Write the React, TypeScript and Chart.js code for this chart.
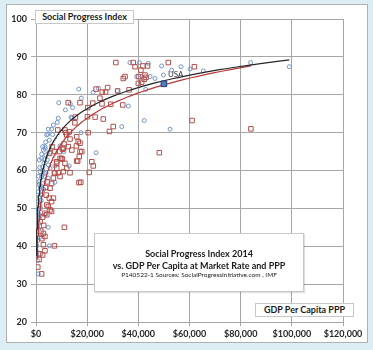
import React, { useEffect, useRef } from "react";
import { Chart, registerables } from "chart.js";

Chart.register(...registerables);

// GDP per capita at market rate (US$) and Social Progress Index — blue circles
const marketGdp = [
  99000, 83900, 65400, 60200, 56700, 53000, 49100, 49800, 46500, 44600, 43900, 41300, 40400, 39400, 36700,
  42900, 36100, 42300, 52400, 33500, 31800, 24400, 22300, 16700, 17700, 14300, 13400, 8900, 13700, 14000,
  8700, 8300, 17600, 23500, 6100, 4800, 4200, 9400, 10900, 13000, 7400, 4600, 3500, 2900, 3900,
  2200, 3100, 2600, 1600, 3500, 4800, 5500, 2200, 2900, 1300, 4800, 7400, 1600, 900, 1300,
  900, 1600, 900, 1300, 2600, 2200, 1300, 5200, 4800, 3500, 900, 300, 300, 1300, 1300,
  600, 800, 500, 1000, 700, 1100, 400, 1700, 2000, 2400, 1900, 3000, 1000, 2600, 3300,
  3800, 5200, 6500, 5700, 4400, 1800, 1400, 600, 2100, 2800, 700, 1500, 3600, 6800, 11500,
];
const marketSpi = [
  87.4, 88.5, 86.3, 86.8, 87.4, 86.5, 87.6, 85.2, 84.3, 84.8, 88.3, 84.8, 88.5, 84.8, 88.5,
  81.4, 77.0, 73.2, 70.9, 71.6, 81.1, 81.7, 80.6, 81.5, 79.1, 76.6, 77.6, 77.9, 74.1, 73.8,
  73.8, 72.7, 70.0, 64.7, 70.9, 70.9, 69.4, 66.5, 65.0, 61.2, 61.2, 69.6, 66.3, 65.4, 64.1,
  63.2, 61.9, 61.0, 59.7, 59.3, 61.5, 60.6, 58.4, 57.5, 57.1, 58.0, 56.9, 55.7, 54.4, 53.1,
  51.8, 50.9, 49.6, 48.3, 66.3, 64.3, 62.8, 40.1, 45.0, 48.3, 32.7, 37.5, 40.1, 50.5, 56.4,
  45.0, 43.0, 47.0, 46.0, 41.5, 44.5, 38.5, 48.0, 52.0, 54.5, 56.0, 55.0, 58.5, 60.0, 63.0,
  67.5, 68.0, 69.5, 64.8, 62.8, 50.0, 42.3, 36.2, 53.5, 59.0, 49.0, 60.8, 65.8, 72.0, 76.0,
];

// GDP per capita at PPP (US$) and Social Progress Index — red squares
const pppGdp = [
  31200, 38000, 38700, 41000, 41800, 43600, 51700, 61900, 34800, 34100, 40100, 42600, 43000, 42300, 40000,
  41300, 28000, 25900, 27200, 31900, 36400, 23500, 25000, 33900, 29200, 25800, 22200, 17200, 12600, 20200,
  26300, 20100, 23100, 15400, 15200, 30200, 28700, 20400, 61000, 84000, 48200, 11300, 8500, 13000, 13300,
  16500, 15800, 17200, 16900, 16300, 12600, 10400, 10000, 10300, 9100, 7400, 6300, 5300, 8100, 8700,
  13300, 7200, 20800, 22400, 11000, 12000, 11600, 15900, 17200, 17900, 10700, 9400, 8100, 11300, 12000,
  10700, 8100, 7400, 9400, 6800, 15900, 21800, 17500, 6100, 5500, 6800, 6100, 4200, 5500, 3500,
  2600, 14000, 16800, 11100, 7200, 3500, 4800, 6100, 4200, 5200, 2900, 3500, 2200, 700, 2600,
  2900, 1600, 1900, 2300, 1500, 1200, 3000, 4000, 3800, 4500,
];
const pppSpi = [
  88.5, 88.5, 87.4, 86.5, 87.6, 87.6, 88.5, 87.4, 84.8, 84.3, 84.8, 85.2, 84.6, 84.1, 83.0,
  83.3, 81.9, 80.7, 80.7, 81.0, 81.3, 81.5, 79.1, 77.3, 77.5, 77.6, 77.8, 77.9, 77.9, 76.6,
  73.6, 74.2, 74.1, 74.1, 72.6, 71.6, 70.3, 70.0, 73.2, 71.0, 64.7, 70.7, 70.7, 70.2, 68.3,
  67.6, 66.5, 65.0, 63.7, 62.5, 66.3, 65.6, 63.2, 63.0, 65.0, 65.0, 66.3, 64.5, 61.9, 59.4,
  59.4, 59.4, 59.5, 61.2, 67.0, 69.4, 70.0, 68.9, 67.2, 65.0, 65.9, 63.2, 62.3, 61.9, 60.6,
  59.7, 60.6, 59.3, 58.4, 58.0, 62.5, 62.3, 56.9, 56.6, 55.3, 52.7, 51.8, 50.9, 49.6, 48.7,
  47.7, 65.4, 56.8, 45.0, 40.1, 38.8, 50.5, 49.2, 48.3, 52.7, 43.4, 42.6, 32.7, 34.5, 37.7,
  40.4, 46.5, 44.0, 42.0, 38.0, 36.5, 45.5, 53.5, 55.5, 57.0,
];

const usaGdp = [50000];
const usaSpi = [82.9];
const usaLabel = "USA";

// Logarithmic trendlines as drawn on the chart: SPI = intercept + slope * ln(GDP)
const marketTrend = { intercept: -3.4, slope: 8.05, from: 160, to: 99000 };
const pppTrend = { intercept: -21.25, slope: 9.6, from: 420, to: 84000 };

const xTicks = [0, 20000, 40000, 60000, 80000, 100000, 120000];
const yTicks = [20, 30, 40, 50, 60, 70, 80, 90, 100];

function trendPoints(t: { intercept: number; slope: number; from: number; to: number }) {
  const pts: { x: number; y: number }[] = [];
  const N = 200;
  for (let i = 0; i <= N; i++) {
    const x = t.from * Math.pow(t.to / t.from, i / N);
    pts.push({ x, y: t.intercept + t.slope * Math.log(x) });
  }
  return pts;
}

const FONT = "Lato";

export default function App() {
  const ref = useRef<HTMLCanvasElement | null>(null);
  useEffect(() => {
    if (!ref.current) return;
    const usaLabelPlugin = {
      id: "usaLabel",
      afterDatasetsDraw(chart: any) {
        const meta = chart.getDatasetMeta(4);
        const el = meta.data[0];
        if (!el) return;
        const ctx = chart.ctx;
        ctx.save();
        ctx.font = `8px ${FONT}`;
        ctx.fillStyle = "#333";
        ctx.textBaseline = "middle";
        ctx.textAlign = "left";
        ctx.fillText(usaLabel, el.x + 4, el.y - 9);
        ctx.restore();
      },
    };
    const chart = new Chart(ref.current, {
      type: "scatter",
      data: {
        datasets: [
          {
            label: "Trend market",
            data: trendPoints(marketTrend),
            showLine: true,
            borderColor: "#262626",
            borderWidth: 1.2,
            pointRadius: 0,
            order: 1,
          },
          {
            label: "Trend PPP",
            data: trendPoints(pppTrend),
            showLine: true,
            borderColor: "#b83a3a",
            borderWidth: 1.2,
            pointRadius: 0,
            order: 1,
          },
          {
            label: "GDP per capita market rate",
            data: marketGdp.map((x, i) => ({ x, y: marketSpi[i] })),
            pointStyle: "circle",
            pointRadius: 2,
            borderWidth: 1,
            borderColor: "#7195c8",
            backgroundColor: "rgba(0,0,0,0)",
            order: 3,
          },
          {
            label: "GDP per capita PPP",
            data: pppGdp.map((x, i) => ({ x, y: pppSpi[i] })),
            pointStyle: "rect",
            pointRadius: 3.2,
            borderWidth: 1,
            borderColor: "#b4504c",
            backgroundColor: "rgba(0,0,0,0)",
            order: 2,
          },
          {
            label: "USA",
            data: usaGdp.map((x, i) => ({ x, y: usaSpi[i] })),
            pointStyle: "rect",
            pointRadius: 4,
            borderWidth: 1,
            borderColor: "#1f3d73",
            backgroundColor: "#4f7fc0",
            order: 0,
          },
        ],
      },
      options: {
        animation: false,
        responsive: false,
        maintainAspectRatio: false,
        layout: { padding: { left: 0, right: 30, top: 19, bottom: 0 } },
        plugins: { legend: { display: false }, tooltip: { enabled: false } },
        scales: {
          x: {
            type: "linear",
            min: xTicks[0],
            max: xTicks[xTicks.length - 1],
            afterBuildTicks: (s: any) => { s.ticks = xTicks.map((v) => ({ value: v })); },
            afterFit: (s: any) => { s.height = 28; },
            grid: { color: "#a6a6a6", tickLength: 4, lineWidth: 1 },
            border: { color: "#a6a6a6" },
            ticks: {
              maxRotation: 0,
              autoSkip: false,
              padding: 3,
              color: "#262626",
              font: { family: FONT, size: 9, weight: "bold" },
              callback: (v: any) => "$" + Number(v).toLocaleString("en-US"),
            },
          },
          y: {
            type: "linear",
            min: yTicks[0],
            max: yTicks[yTicks.length - 1],
            afterBuildTicks: (s: any) => { s.ticks = yTicks.map((v) => ({ value: v })); },
            afterFit: (s: any) => { s.width = 36; },
            grid: { color: "#a6a6a6", tickLength: 5, lineWidth: 1 },
            border: { color: "#a6a6a6" },
            ticks: {
              padding: 4,
              color: "#262626",
              font: { family: FONT, size: 9, weight: "bold" },
            },
          },
        },
      },
      plugins: [usaLabelPlugin],
    } as any);
    return () => chart.destroy();
  }, []);

  const box: React.CSSProperties = {
    position: "absolute",
    background: "#fff",
    border: "1px solid #c8c8c8",
    boxSizing: "border-box",
    fontFamily: FONT,
    color: "#1a1a1a",
    textAlign: "center",
    whiteSpace: "nowrap",
  };

  return (
    <div style={{ position: "fixed", left: 0, top: 0, width: 373, height: 350, background: "#dcedf4", overflow: "hidden" }}>
      <div style={{ position: "absolute", left: 6, top: 4, width: 362, height: 339, background: "#fff", border: "1px solid #b0b0b0", boxSizing: "border-box" }} />
      <canvas ref={ref} width={373} height={350} style={{ position: "absolute", left: 0, top: 0, width: 373, height: 350 }} />
      <div style={{ ...box, left: 35, top: 10, width: 99, height: 14, fontSize: 9, fontWeight: 700, lineHeight: "12px" }}>
        Social Progress Index
      </div>
      <div style={{ ...box, left: 94, top: 233, width: 210, height: 59, boxShadow: "1px 1px 1px rgba(0,0,0,0.12)" }}>
        <div style={{ position: "absolute", left: 0, right: 0, top: 14, fontSize: 9, fontWeight: 700, lineHeight: "12px" }}>
          Social Progress Index 2014
        </div>
        <div style={{ position: "absolute", left: 0, right: 0, top: 26, fontSize: 9, fontWeight: 700, lineHeight: "12px" }}>
          vs. GDP Per Capita at Market Rate and PPP
        </div>
        <div style={{ position: "absolute", left: 0, right: 0, top: 37, fontSize: 6.5, lineHeight: "8px" }}>
          P140522-1 Sources: SocialProgressInitiative.com , IMF
        </div>
      </div>
      <div style={{ ...box, left: 255, top: 303, width: 99, height: 14, fontSize: 9, fontWeight: 700, lineHeight: "12px" }}>
        GDP Per Capita PPP
      </div>
    </div>
  );
}
